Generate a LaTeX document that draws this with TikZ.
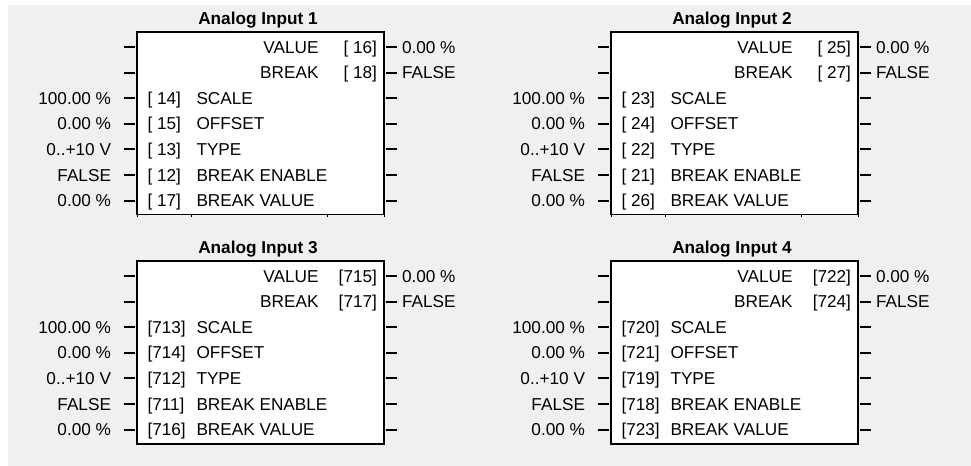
\documentclass[tikz,border=0pt]{standalone}
\usepackage{fontspec}
\setmainfont{Liberation Sans}
\definecolor{bgcol}{RGB}{240,240,240}
\tikzset{
  txt/.style={inner sep=0pt, outer sep=0pt, text height=9.24pt, text depth=0pt,
              font=\fontsize{12.9pt}{15pt}\selectfont},
  ttl/.style={txt, font=\fontsize{12.9pt}{15pt}\selectfont\bfseries},
  blk/.style={fill=white, inner sep=0pt, outer sep=0pt,
              minimum width=185.25pt, minimum height=137.25pt},
  edgeline/.style={line width=1.5pt},
  thinedge/.style={line width=0.75pt},
  tickline/.style={line width=1.5pt},
}
\begin{document}
\begin{tikzpicture}[x=0.75pt,y=-0.75pt]
  \useasboundingbox (0,0) rectangle (971,466);
  \fill[white] (0,0) rectangle (971,466);
  \fill[bgcol] (8,5) rectangle (971,466);
  \foreach \dx/\dy/\n/\full/\va/\br/\sc/\of/\ty/\be/\bv in {
      0/0/1/0/~16/~18/~14/~15/~13/~12/~17,
      474/0/2/0/~25/~27/~23/~24/~22/~21/~26,
      0/229/3/1/715/717/713/714/712/711/716,
      474/229/4/1/722/724/720/721/719/718/723} {
    \begin{scope}[shift={(\dx,\dy)}]
      \node[ttl] (t\n) at (258,18) {Analog Input \n};
      \node[blk] (b\n) at (260.5,123.5) {};
      \ifnum\full=1
        \draw[edgeline] (b\n.south west) rectangle (b\n.north east);
      \else
        \draw[thinedge] (b\n.south west) -- (b\n.south east);
        \draw[edgeline] (b\n.south west) -- (b\n.north west) -- (b\n.north east) -- (b\n.south east);
        \foreach \sx in {137,191,327,384} {
          \draw[thinedge] (\sx,215) -- (\sx,217.5);
        }
      \fi
      % stubs
      \foreach \y in {47,72.6,98.2,123.8,149.4,175,200.6} {
        \draw[tickline] (123.5,\y) -- (134.5,\y);
        \draw[tickline] (385.5,\y) -- (396.5,\y);
      }
      % outputs
      \node[txt, anchor=east] (vn\n) at (318.5,47) {VALUE};
      \node[txt, anchor=east] (vi\n) at (377,47) {[\va]};
      \node[txt, anchor=west] (vo\n) at (402,47) {0.00 \%};
      \node[txt, anchor=east] (kn\n) at (318.5,72.6) {BREAK};
      \node[txt, anchor=east] (ki\n) at (377,72.6) {[\br]};
      \node[txt, anchor=west] (ko\n) at (402,72.6) {FALSE};
      % inputs
      \node[txt, anchor=east] (sv\n) at (111,98.2) {100.00 \%};
      \node[txt, anchor=west] (si\n) at (147.5,98.2) {[\sc]};
      \node[txt, anchor=west] (sn\n) at (196.5,98.2) {SCALE};
      \node[txt, anchor=east] (ov\n) at (111,123.8) {0.00 \%};
      \node[txt, anchor=west] (oi\n) at (147.5,123.8) {[\of]};
      \node[txt, anchor=west] (on\n) at (196.5,123.8) {OFFSET};
      \node[txt, anchor=east] (yv\n) at (111,149.4) {0..+10 V};
      \node[txt, anchor=west] (yi\n) at (147.5,149.4) {[\ty]};
      \node[txt, anchor=west] (yn\n) at (196.5,149.4) {TYPE};
      \node[txt, anchor=east] (ev\n) at (111,175) {FALSE};
      \node[txt, anchor=west] (ei\n) at (147.5,175) {[\be]};
      \node[txt, anchor=west] (en\n) at (196.5,175) {BREAK ENABLE};
      \node[txt, anchor=east] (bv\n) at (111,200.6) {0.00 \%};
      \node[txt, anchor=west] (bi\n) at (147.5,200.6) {[\bv]};
      \node[txt, anchor=west] (bn\n) at (196.5,200.6) {BREAK VALUE};
    \end{scope}
  }
\end{tikzpicture}
\end{document}
